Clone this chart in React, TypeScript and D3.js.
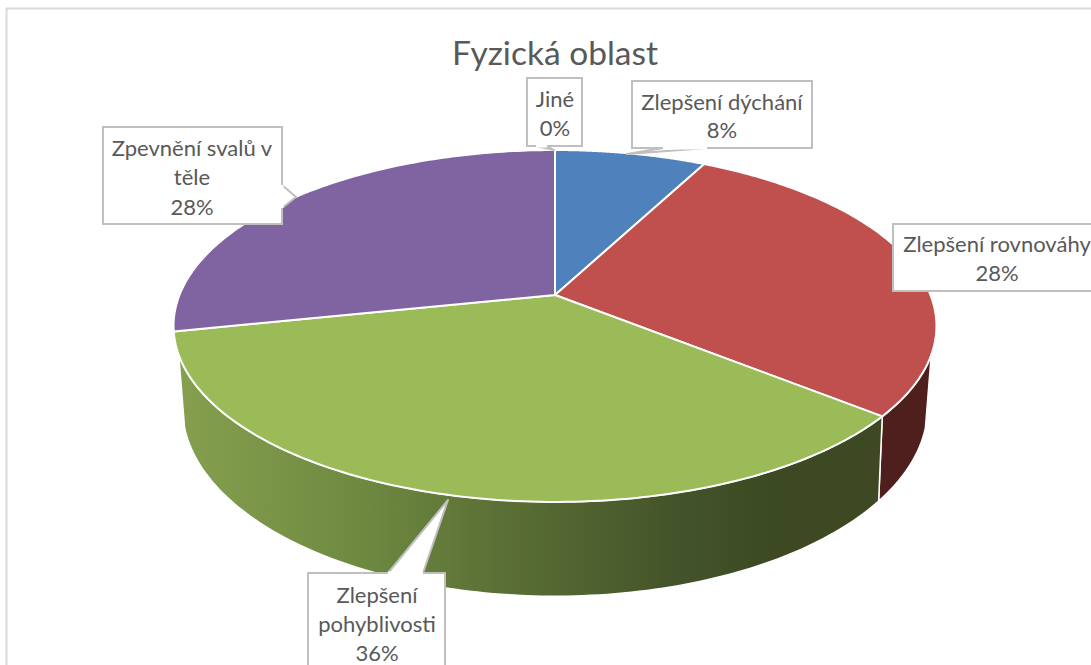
import React from "react";
import * as d3 from "d3";

const categories = ["Zlepšení dýchání", "Zlepšení rovnováhy", "Zlepšení pohyblivosti", "Zpevnění svalů v těle", "Jiné"];
const shares = [7.6, 28.3, 35.8, 28.3, 0];
const colors = ["#4f81bd", "#c0504d", "#9bbb59", "#8064a2", "#8064a2"];
const wallFills = ["#2a4260", "#4f1f1e", "url(#greenWall)", "#4a3a5e", "#4a3a5e"];
const titleText = "Fyzická oblast";

type Callout = {
  box: [number, number, number, number];
  tip: [number, number];
  base: [[number, number], [number, number]];
  lines: string[];
  cx: number;
  baselines: number[];
};
const callouts: Callout[] = [
  { box: [103, 127, 282, 224], tip: [296, 197], base: [[282, 208], [282, 185]], lines: ["Zpevnění svalů v", "těle", "28%"], cx: 192, baselines: [156, 185, 215] },
  { box: [527, 78, 582, 146], tip: [554, 150], base: [[547, 146], [536, 146]], lines: ["Jiné", "0%"], cx: 555, baselines: [107, 136] },
  { box: [632, 81, 812, 148], tip: [627, 154], base: [[663, 148], [707, 148]], lines: ["Zlepšení dýchání", "8%"], cx: 722, baselines: [110, 138] },
  { box: [893, 224, 1110, 291], tip: [893, 224], base: [[893, 224], [893, 224]], lines: ["Zlepšení rovnováhy", "28%"], cx: 997, baselines: [252, 281] },
  { box: [308, 573, 445, 680], tip: [448, 500], base: [[423, 573], [388, 573]], lines: ["Zlepšení", "pohyblivosti", "36%"], cx: 377, baselines: [603, 632, 661] },
];

// Perspective projection of the pie's top and bottom discs
const top = { cx: 555, cy: 295, R: 375.5, B: 170.5, p: -0.176 };
const bottom = { cx: 555, cy: 370, R: 365, B: 181, p: -0.2 };
// The side wall's silhouette starts and ends at these depths on each disc
const rimSilhouetteV = 0.331;
const floorSilhouetteV = 0.3;
type Disc = typeof top;
const project = (d: Disc, a: number): [number, number] => {
  const u = Math.sin(a), v = -Math.cos(a), w = 1 + d.p * v;
  return [d.cx + (d.R * u) / w, d.cy + (d.B * v) / w];
};
const arcAngles = (a0: number, a1: number) => d3.range(0, 121).map((i) => a0 + ((a1 - a0) * i) / 120);
const line = d3.line<[number, number]>();
const rimStart = Math.acos(-rimSilhouetteV);
const rimEnd = 2 * Math.PI - rimStart;
const floorStart = Math.acos(-floorSilhouetteV);
const floorEnd = 2 * Math.PI - floorStart;

const pie = d3.pie<number>().sort(null).value((d) => d);
const slices = pie(shares);

export default function App() {
  const font = "Lato, 'Open Sans', sans-serif";
  return (
    <svg width={1091} height={665} style={{ position: "absolute", left: 0, top: 0, background: "#fff" }}>
      <defs>
        <linearGradient id="greenWall" gradientUnits="userSpaceOnUse" x1={174} x2={885} y1={0} y2={0}>
          <stop offset="0" stopColor="#86a04f" />
          <stop offset="0.25" stopColor="#6f8b41" />
          <stop offset="0.45" stopColor="#5c7136" />
          <stop offset="0.7" stopColor="#44542a" />
          <stop offset="0.85" stopColor="#3c4922" />
          <stop offset="1" stopColor="#3c4922" />
        </linearGradient>
      </defs>
      <path d="M1091,8.5H6.5V665" fill="none" stroke="#d9d9d9" strokeWidth={2} />

      {slices.map((s, i) => {
        const r0 = Math.max(s.startAngle, rimStart), r1 = Math.min(s.endAngle, rimEnd);
        const f0 = Math.max(s.startAngle, floorStart), f1 = Math.min(s.endAngle, floorEnd);
        if (r1 <= r0) return null;
        const pts = [
          ...arcAngles(r0, r1).map((a) => project(top, a)),
          ...arcAngles(f1, f0).map((a) => project(bottom, a)),
        ];
        return <path key={"w" + i} d={line(pts) + "Z"} fill={wallFills[i]} stroke="#fff" strokeWidth={1.5} strokeLinejoin="round" />;
      })}

      {slices.map((s, i) => {
        if (s.endAngle <= s.startAngle) return null;
        const pts = [[top.cx, top.cy] as [number, number], ...arcAngles(s.startAngle, s.endAngle).map((a) => project(top, a))];
        return <path key={"s" + i} d={line(pts) + "Z"} fill={colors[i]} stroke="#fff" strokeWidth={2} strokeLinejoin="round" />;
      })}

      <text x={555} y={65} textAnchor="middle" fontFamily={font} fontSize={33.5} fill="#595959">{titleText}</text>

      {callouts.map((c, i) => {
        const [x0, y0, x1, y1] = c.box;
        return (
          <g key={"c" + i}>
            <rect x={x0} y={y0} width={x1 - x0} height={y1 - y0} fill="#fff" stroke="#bfbfbf" strokeWidth={2} />
            <path d={line([c.base[0], c.tip, c.base[1]])!} fill="#fff" stroke="#bfbfbf" strokeWidth={2} strokeLinejoin="round" />
            <path d={line([c.base[0], c.base[1]])!} fill="none" stroke="#fff" strokeWidth={3} />
            {c.lines.map((t, j) => (
              <text key={j} x={c.cx} y={c.baselines[j]} textAnchor="middle" fontFamily={font} fontSize={22} fill="#595959">{t}</text>
            ))}
          </g>
        );
      })}
    </svg>
  );
}
